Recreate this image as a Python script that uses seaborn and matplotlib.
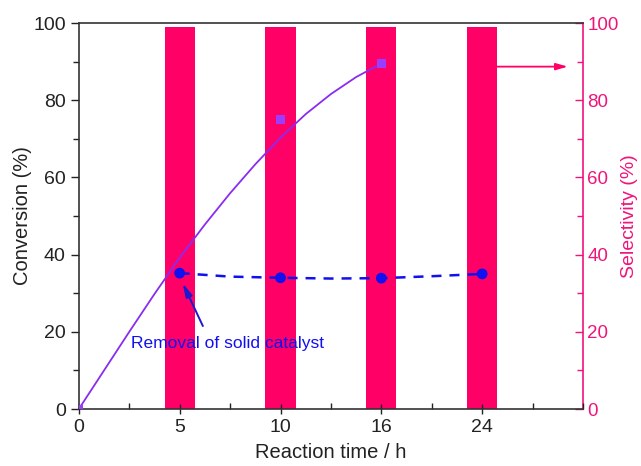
import numpy as np
import pandas as pd
import matplotlib
matplotlib.use("Agg")
import matplotlib.pyplot as plt
from matplotlib.ticker import MultipleLocator
import seaborn as sns

# data
time_h = [0, 5, 10, 16, 24]
conv_pos = [0, 2, 3]            # index into time_h
conv_val = [0, 75, 89.5]
fit_pos = [0, 0.25, 0.5, 0.75, 1.0, 1.25, 1.5, 1.75, 2.0, 2.25, 2.5, 2.75, 3.0]
fit_val = [0, 10, 20, 29.8, 39.2, 47.8, 55.9, 63.4, 70.3, 76.4, 81.6, 86, 89.5]
removal_pos = [1, 2, 3, 4]
removal_val = [35.2, 34.0, 33.9, 35.0]
removal_fit_pos = [1, 1.5, 2, 2.5, 3, 3.5, 4]
removal_fit_val = [35.2, 34.3, 34.0, 33.8, 33.9, 34.4, 35.0]
sel_pos = [1, 2, 3, 4]
sel_val = [99, 99, 99, 99]

PINK = "#ff0066"
PINK_AX = "#f0147a"
PURPLE = "#8a2cf0"
BLUE = "#1010f0"

sns.set_style("ticks")
plt.rcParams["font.family"] = ["Liberation Sans", "DejaVu Sans"]

fig, ax = plt.subplots(figsize=(6.41, 4.66), dpi=100)
fig.subplots_adjust(left=0.123, right=0.9095, top=0.9506, bottom=0.1223)
ax2 = ax.twinx()

# selectivity bars (right axis)
sns.barplot(x=sel_pos, y=sel_val, native_scale=True, width=0.3, color=PINK,
            saturation=1, edgecolor="none", ax=ax2)

# conversion fit + points
sns.lineplot(x=fit_pos, y=fit_val, color=PURPLE, lw=1.3, ax=ax, sort=False)
sns.scatterplot(x=conv_pos, y=conv_val, marker="s", s=38, color="#9b3dff",
                edgecolor="none", ax=ax, zorder=4)

# after removal of catalyst
sns.lineplot(x=removal_fit_pos, y=removal_fit_val, color=BLUE, lw=1.8,
             ax=ax, sort=False, dashes=False, linestyle=(0, (4, 3.2)))
sns.scatterplot(x=removal_pos, y=removal_val, marker="o", s=60, color=BLUE,
                edgecolor="none", ax=ax, zorder=5)

ax.text(1.47, 17, "Removal of solid catalyst", color=BLUE, fontsize=12.5,
        ha="center", va="center")
ax.annotate("", xy=(1.03, 32.6), xytext=(1.23, 21.5),
            arrowprops=dict(arrowstyle="-|>,head_length=0.8,head_width=0.2",
                            color="#1a1ad0", lw=1.4, shrinkA=0, shrinkB=0))
ax2.annotate("", xy=(4.85, 88.7), xytext=(4.15, 88.7),
             arrowprops=dict(arrowstyle="-|>,head_length=0.7,head_width=0.2",
                             color=PINK, lw=1.3, shrinkA=0, shrinkB=0))

# layering: lines above bars
ax.set_zorder(ax2.get_zorder() + 1)
ax.patch.set_visible(False)

# axes
ax.set_xlim(0, 5)
ax.set_ylim(0, 100)
ax2.set_ylim(0, 100)
ax2.set_xlim(0, 5)
ax.set_xticks(range(len(time_h)))
ax.set_xticklabels([str(t) for t in time_h])
ax.xaxis.set_minor_locator(MultipleLocator(0.5))
ax.yaxis.set_major_locator(MultipleLocator(20))
ax.yaxis.set_minor_locator(MultipleLocator(10))
ax2.yaxis.set_major_locator(MultipleLocator(20))
ax2.yaxis.set_minor_locator(MultipleLocator(10))

dark = "#222222"
ax.tick_params(axis="y", which="major", direction="out", length=6, width=1,
               labelsize=14, colors=dark)
ax.tick_params(axis="y", which="minor", direction="out", length=4, width=1,
               colors=dark)
ax.tick_params(axis="x", which="major", direction="inout", length=7, width=1,
               labelsize=14, colors=dark, pad=4)
ax.tick_params(axis="x", which="minor", direction="in", length=4, width=1,
               colors=dark)
ax2.tick_params(axis="y", which="major", direction="in", length=6, width=1,
                labelsize=13.5, colors=PINK_AX, pad=3)
ax2.tick_params(axis="y", which="minor", direction="in", length=4, width=1,
                colors=PINK_AX)
ax2.tick_params(axis="x", which="both", bottom=False, top=False,
                labelbottom=False)

for side in ["left", "bottom", "top"]:
    ax.spines[side].set_color("#333333")
    ax.spines[side].set_linewidth(1.2)
ax.spines["right"].set_visible(False)
ax2.spines["right"].set_color(PINK_AX)
ax2.spines["right"].set_linewidth(1.2)
for side in ["left", "bottom", "top"]:
    ax2.spines[side].set_visible(False)

ax.set_xlabel("Reaction time / h", fontsize=14.5, color=dark, labelpad=5)
ax.set_ylabel("Conversion (%)", fontsize=14.5, color=dark, labelpad=1)
ax2.set_ylabel("Selectivity (%)", fontsize=14, color=PINK_AX, labelpad=2)

fig.savefig("out.png", dpi=100)
